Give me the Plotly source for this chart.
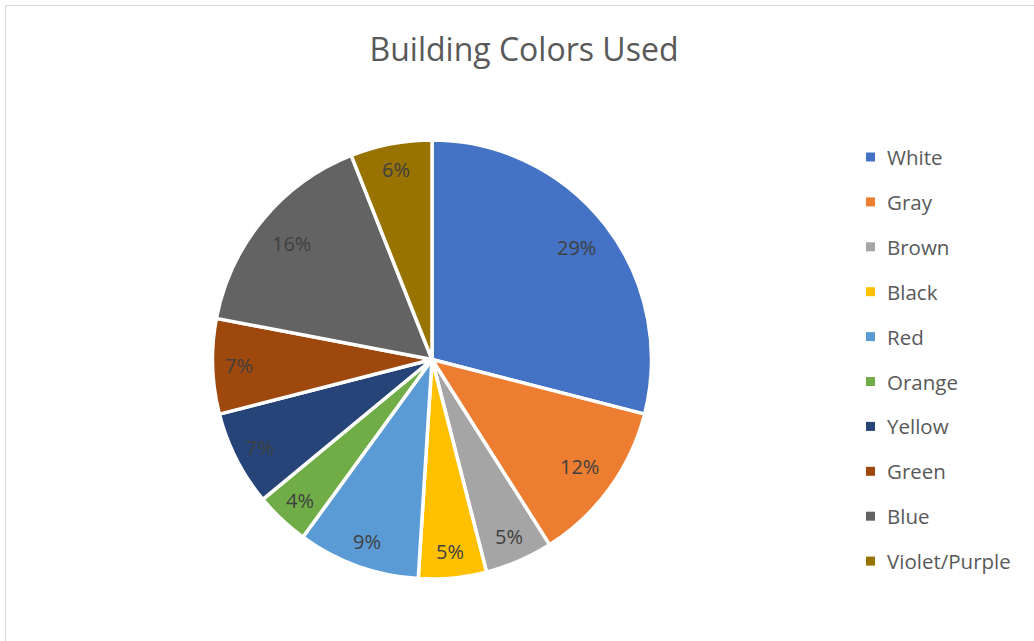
import math
import plotly.graph_objects as go

# ---- data ----
labels = ["White", "Gray", "Brown", "Black", "Red", "Orange", "Yellow", "Green", "Blue", "Violet/Purple"]
values = [29, 12, 5, 5, 9, 4, 7, 7, 16, 6]
colors = ["#4472C4", "#ED7D31", "#A5A5A5", "#FFC000", "#5B9BD5",
          "#70AD47", "#264478", "#9E480E", "#636363", "#997300"]
title_text = "Building Colors Used"

W, H = 1034, 641
FONT = "Open Sans"

# pie geometry (pixels)
cx, cy, R = 432, 359.5, 219.5

def px(x):
    return x / W

def py(y):
    return 1 - y / H

fig = go.Figure()
fig.add_trace(go.Pie(
    labels=labels,
    values=values,
    sort=False,
    direction="clockwise",
    rotation=0,
    marker=dict(colors=colors, line=dict(color="white", width=3.5)),
    textinfo="none",
    hoverinfo="label+percent",
    domain=dict(x=[px(cx - R), px(cx + R)], y=[py(cy + R), py(cy - R)]),
    showlegend=False,
))

annotations = []
shapes = []

# data labels (percentages) placed along slice mid-angles
total = sum(values)
cum = 0
Rl = 217
for lab, v in zip(labels, values):
    mid = (cum + v / 2) / total * 2 * math.pi
    cum += v
    frac = 0.84 if v >= 10 else 0.89
    lx = cx + frac * Rl * math.sin(mid)
    ly = cy - frac * Rl * math.cos(mid)
    annotations.append(dict(
        x=px(lx), y=py(ly), xref="paper", yref="paper",
        text=f"{round(v / total * 100)}%", showarrow=False,
        font=dict(family=FONT, size=20, color="#404040"),
        xanchor="center", yanchor="middle",
    ))

# legend (manual, to match spacing)
leg_x_box, leg_x_text, leg_y0, leg_dy, box = 866, 885, 157, 44.9, 9
for i, (lab, col) in enumerate(zip(labels, colors)):
    yc = leg_y0 + i * leg_dy
    shapes.append(dict(
        type="rect", xref="paper", yref="paper",
        x0=px(leg_x_box), x1=px(leg_x_box + box),
        y0=py(yc + box / 2), y1=py(yc - box / 2),
        fillcolor=col, line=dict(width=0),
    ))
    annotations.append(dict(
        x=px(leg_x_text), y=py(yc), xref="paper", yref="paper",
        text=lab, showarrow=False,
        font=dict(family=FONT, size=20.5, color="#595959"),
        xanchor="left", yanchor="middle",
    ))

# chart area border (left and top visible)
shapes.append(dict(type="line", xref="paper", yref="paper",
                   x0=px(5.5), x1=px(5.5), y0=0, y1=py(5.5),
                   line=dict(color="#D9D9D9", width=1)))
shapes.append(dict(type="line", xref="paper", yref="paper",
                   x0=px(5.5), x1=1, y0=py(5.5), y1=py(5.5),
                   line=dict(color="#D9D9D9", width=1)))

fig.update_layout(
    width=W, height=H,
    margin=dict(l=0, r=0, t=0, b=0),
    paper_bgcolor="white",
    plot_bgcolor="white",
    title=dict(text=title_text, x=px(524), y=py(50), xanchor="center", yanchor="middle",
               xref="paper", yref="paper",
               font=dict(family=FONT, size=32, color="#595959")),
    annotations=annotations,
    shapes=shapes,
    showlegend=False,
)

fig.write_html("out.html", config={"displayModeBar": False},
               post_script="document.body.style.margin='0px';")
